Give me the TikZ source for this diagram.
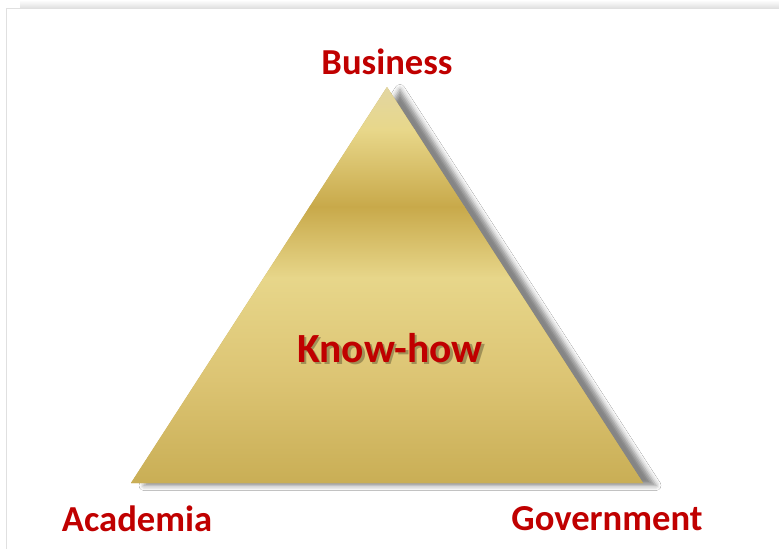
\documentclass[tikz,border=0pt]{standalone}
\usepackage{fontspec}
\setmainfont{Carlito}
\usetikzlibrary{shadows.blur}
\definecolor{lblred}{HTML}{C00000}
\definecolor{g1}{HTML}{E2D6A2}
\definecolor{g2}{HTML}{E8D78A}
\definecolor{g3}{HTML}{C8A94A}
\definecolor{g4}{HTML}{E7D68A}
\definecolor{g5}{HTML}{DCC473}
\definecolor{g6}{HTML}{C9AE55}
\tikzset{
  lbl/.style={text=lblred, font=\fontsize{36.6}{40}\selectfont\bfseries, inner sep=0pt, anchor=center},
  centerlbl/.style={text=lblred, font=\fontsize{41.5}{46}\selectfont\bfseries, inner sep=0pt, anchor=center},
  centershadow/.style={text=black, opacity=0.28, font=\fontsize{41.5}{46}\selectfont\bfseries, inner sep=0pt, anchor=center},
}
\begin{document}
\begin{tikzpicture}[x=1pt,y=-1pt]
\useasboundingbox (0,0) rectangle (779,549);
\fill[white] (0,0) rectangle (779,549);
% slide frame
\shade[top color=white, bottom color=black!12] (20,0) rectangle (779,8);
\draw[black!12, line width=1pt] (6.5,549) -- (6.5,8.5) -- (779,8.5);
% triangle with shadow
\coordinate (apex) at (387,87);
\coordinate (bl) at (131,483);
\coordinate (br) at (643,483);
\path[fill=g6, blur shadow={shadow xshift=13pt, shadow yshift=-2.5pt, shadow blur radius=5pt, shadow opacity=48}] (apex) -- (br) -- (bl) -- cycle;
\begin{scope}
\clip (apex) -- (br) -- (bl) -- cycle;
\shade[top color=g1, bottom color=g2] (100,86) rectangle (700,130);
\shade[top color=g2, bottom color=g3] (100,129.5) rectangle (700,207);
\shade[top color=g3, bottom color=g4] (100,206.5) rectangle (700,278);
\shade[top color=g4, bottom color=g5] (100,277.5) rectangle (700,380);
\shade[top color=g5, bottom color=g6] (100,379.5) rectangle (700,484);
\end{scope}
% labels
\node[lbl] (business) at (387,62) {Business};
\node[lbl] (academia) at (137,519) {Academia};
\node[lbl] (government) at (607,519) {Government};
\node[centershadow] (knowshadow) at (392.5,350.5) {Know-how};
\node[centerlbl] (know) at (390,348) {Know-how};
\end{tikzpicture}
\end{document}
